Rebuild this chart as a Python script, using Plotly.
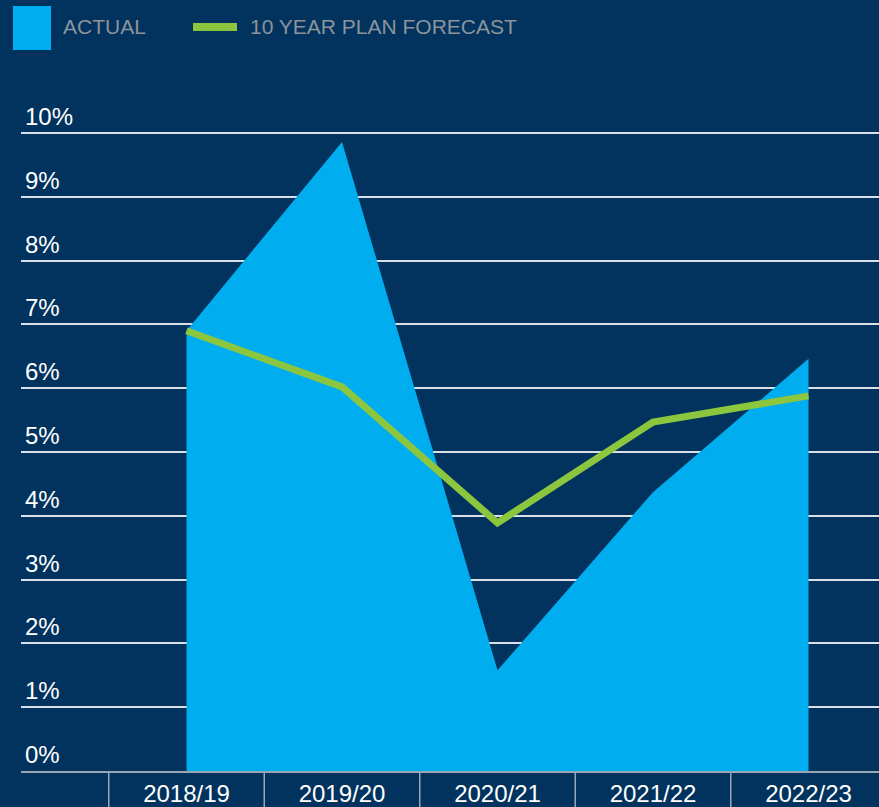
import plotly.graph_objects as go

categories = ["2018/19", "2019/20", "2020/21", "2021/22", "2022/23"]
actual = [6.9, 9.86, 1.58, 4.37, 6.46]
forecast = [6.9, 6.02, 3.89, 5.47, 5.88]
y_ticks = list(range(0, 11))
y_tick_labels = [f"{v}%" for v in y_ticks]

BG = "#01335E"
BLUE = "#00AEEF"
GREEN = "#8CC63F"
LEGEND_TXT = "#8C939B"
FONT = "Liberation Sans, Arial, sans-serif"

x = list(range(len(categories)))

fig = go.Figure()
fig.add_trace(go.Scatter(x=x, y=actual, mode="lines", fill="tozeroy",
                         fillcolor=BLUE, line=dict(width=0, color=BLUE),
                         name="ACTUAL", hoverinfo="skip", showlegend=False))
fig.add_trace(go.Scatter(x=x, y=forecast, mode="lines",
                         line=dict(width=7, color=GREEN),
                         name="10 YEAR PLAN FORECAST", showlegend=False))

W, H = 879, 807
ml, mr, mt, mb = 21, 0, 131, 36
ph = H - mt - mb
pw = W - ml - mr

def px_x(p):
    return (p - ml) / pw

def px_y(p):
    return (H - mb - p) / ph

shapes = []
# category separators below the axis
for i in range(len(categories)):
    shapes.append(dict(type="line", xref="x", yref="paper",
                       x0=i - 0.5, x1=i - 0.5, y0=0, y1=-mb / ph,
                       line=dict(color="#9AA6B4", width=1.5)))
# legend
shapes.append(dict(type="rect", xref="paper", yref="paper",
                   x0=px_x(13), x1=px_x(51), y0=px_y(50), y1=px_y(6),
                   fillcolor=BLUE, line=dict(width=0)))
shapes.append(dict(type="line", xref="paper", yref="paper",
                   x0=px_x(193), x1=px_x(237), y0=px_y(27), y1=px_y(27),
                   line=dict(color=GREEN, width=8)))

annotations = []
annotations.append(dict(xref="paper", yref="paper", x=px_x(61), y=px_y(27),
                        xanchor="left", yanchor="middle", text="ACTUAL",
                        showarrow=False, font=dict(size=21, color=LEGEND_TXT, family=FONT)))
annotations.append(dict(xref="paper", yref="paper", x=px_x(248), y=px_y(27),
                        xanchor="left", yanchor="middle", text="10 YEAR PLAN FORECAST",
                        showarrow=False, font=dict(size=21, color=LEGEND_TXT, family=FONT)))
for v, t in zip(y_ticks, y_tick_labels):
    annotations.append(dict(xref="paper", yref="y", x=px_x(23), y=v,
                            xanchor="left", yanchor="bottom", text=t, yshift=1,
                            showarrow=False, font=dict(size=24, color="white", family=FONT)))

fig.update_layout(
    width=W, height=H,
    margin=dict(l=ml, r=mr, t=mt, b=mb, pad=0),
    paper_bgcolor=BG, plot_bgcolor=BG,
    shapes=shapes, annotations=annotations,
    showlegend=False,
    xaxis=dict(range=[(ml - 186.5) / 155.5, (W - 186.5) / 155.5],
               tickvals=x, ticktext=categories, showgrid=False, zeroline=False,
               showline=True, linecolor="#9AA6B4", linewidth=1.5,
               ticks="", tickfont=dict(size=24, color="white", family=FONT)),
    yaxis=dict(range=[0, 10 * ph / 638], tickvals=y_ticks, showticklabels=False,
               showgrid=True, gridcolor="rgba(255,255,255,0.85)", gridwidth=1.5,
               zeroline=False, ticks=""),
)

fig.write_html("out.html", config={"displayModeBar": False},
               post_script="document.body.style.margin='0';document.body.style.background='#01335E';")
